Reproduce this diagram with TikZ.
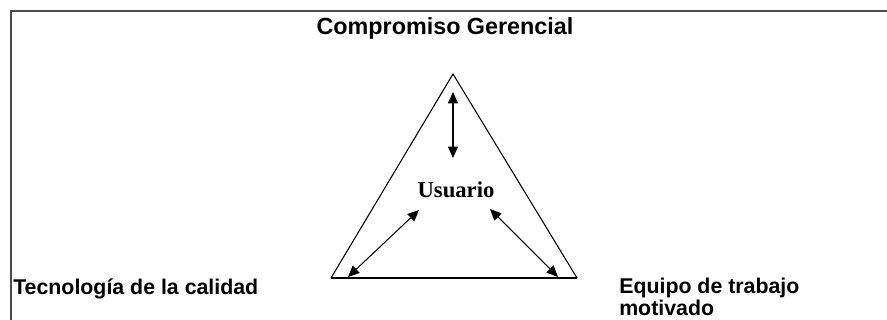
\documentclass[tikz,border=0pt]{standalone}
\usepackage{fontspec}
\setmainfont{Liberation Serif}
\newfontfamily\arialfont{Liberation Sans}
\usetikzlibrary{arrows.meta}

\tikzset{
  label text/.style={font=\arialfont\bfseries\fontsize{16}{16.5}\selectfont, inner sep=0pt},
  dbl arrow/.style={{Triangle[length=8.5pt,width=7.5pt]}-{Triangle[length=8.5pt,width=7.5pt]}, line width=0.8pt}
}

\begin{document}
\begin{tikzpicture}[x=0.75pt,y=-0.75pt]

    \useasboundingbox (0,0) rectangle (887,320);

    % frame
    \draw[line width=1.1pt, black!70] (11,320) -- (11,11) -- (887,11);

    % triangle corners
    \coordinate (apex) at (453,74);
    \coordinate (left) at (331,278);
    \coordinate (right) at (577,278);
    \draw[line width=0.8pt] (left) -- (apex) -- (right);
    \draw[line width=1.2pt] (left) -- (right);

    % labels
    \node[label text, font=\arialfont\bfseries\fontsize{17.5}{18}\selectfont, anchor=base] (gerencia) at (445,35) {Compromiso Gerencial};
    \node[label text, anchor=base west] (tecno) at (13,294) {Tecnología de la calidad};
    \node[label text, anchor=north west, align=left] (equipo) at (619,278) {Equipo de trabajo\\motivado};
    \node[font=\bfseries\fontsize{17}{17}\selectfont, inner sep=0pt, anchor=base] (usuario) at (456,197) {Usuario};

    % arrow ends
    \coordinate (top a) at (453,92);
    \coordinate (top b) at (453,158);
    \coordinate (left a) at (419,210);
    \coordinate (left b) at (348,277);
    \coordinate (right a) at (490,209);
    \coordinate (right b) at (558,277);

    % arrows
    \draw[dbl arrow] (top a) -- (top b);
    \draw[dbl arrow] (left a) -- (left b);
    \draw[dbl arrow] (right a) -- (right b);
  \end{tikzpicture}
\end{document}
